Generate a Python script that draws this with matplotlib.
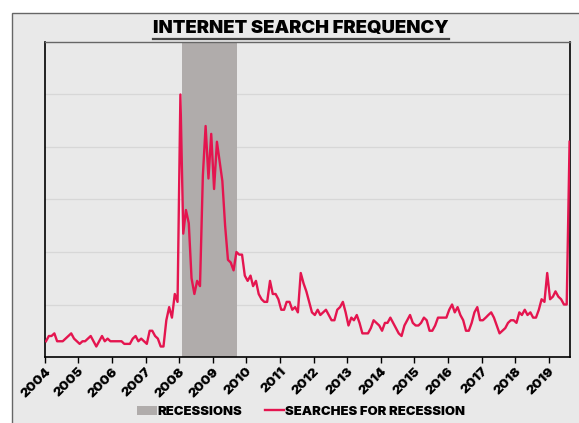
import matplotlib
matplotlib.use("Agg")
import matplotlib.pyplot as plt
import pandas as pd
from matplotlib.patches import Rectangle, Patch
from matplotlib.lines import Line2D

# Monthly search interest for "recession" (0-100 index), Jan 2004 - Aug 2019
search_index = [
    6, 8, 8, 9, 6, 6, 6, 7, 8, 9, 7, 6,          # 2004
    5, 6, 6, 7, 8, 6, 4, 6, 8, 6, 7, 6,          # 2005
    6, 6, 6, 6, 5, 5, 5, 7, 8, 6, 7, 6,          # 2006
    5, 10, 10, 8, 7, 4, 4, 14, 19, 15, 24, 21,   # 2007
    100, 47, 56, 51, 30, 24, 29, 27, 69, 88, 68, 85,  # 2008
    64, 82, 75, 67, 50, 37, 36, 33, 40, 39, 39, 31,   # 2009
    29, 31, 27, 29, 24, 22, 21, 21, 29, 24, 24, 22,   # 2010
    18, 18, 21, 21, 18, 19, 17, 32, 28, 25, 21, 17,   # 2011
    16, 18, 16, 17, 18, 16, 14, 14, 18, 19, 21, 17,   # 2012
    12, 15, 14, 16, 13, 9, 9, 9, 11, 14, 13, 12,      # 2013
    10, 13, 13, 15, 13, 11, 9, 8, 12, 14, 16, 13,     # 2014
    12, 12, 13, 15, 14, 10, 10, 12, 15, 15, 15, 15,   # 2015
    18, 20, 17, 19, 16, 14, 10, 10, 13, 17, 19, 14,   # 2016
    14, 15, 16, 17, 15, 12, 9, 10, 11, 13, 14, 14,    # 2017
    13, 17, 16, 18, 16, 17, 15, 15, 18, 22, 21, 32,   # 2018
    22, 23, 25, 23, 22, 20, 20, 82,                   # 2019
]
first_month = "2004-01-01"
recession_start = "2008-02-01"
recession_end = "2009-09-24"
year_labels = [str(y) for y in range(2004, 2020)]

LINE_RED = "#e4154f"
REC_GREY = "#b0acab"
PANEL = "#e9e9e9"
FONT = ["Inter", "DejaVu Sans"]

# monthly points sit at mid-month
dates = pd.date_range(first_month, periods=len(search_index), freq="MS") + pd.Timedelta(days=14)

W, H = 579, 423
fig = plt.figure(figsize=(W / 100, H / 100), dpi=100)
fig.patch.set_facecolor("white")

# framed grey panel behind everything
fig.add_artist(Rectangle((12 / W, -0.05), 1.2, 1 - 13 / H + 0.05,
                         transform=fig.transFigure, facecolor=PANEL,
                         edgecolor="#666666", lw=1.0, zorder=0))

ax = fig.add_axes([44.7 / W, 1 - 357 / H, (570.3 - 44.7) / W, (357 - 42) / H])
ax.set_facecolor(PANEL)
ax.set_axisbelow(True)

ax.axvspan(pd.Timestamp(recession_start), pd.Timestamp(recession_end),
           color=REC_GREY, lw=0, zorder=1)
ax.plot(dates, search_index, color=LINE_RED, lw=1.7, zorder=3,
        solid_joinstyle="round")

ax.set_ylim(0, 120)
ax.set_yticks([20, 40, 60, 80, 100])
ax.yaxis.grid(True, color="#d7d7d7", lw=0.9)
ax.tick_params(axis="y", length=0, labelleft=False)

ax.set_xlim(pd.Timestamp("2004-01-01"), pd.Timestamp("2019-08-23"))
ticks = [pd.Timestamp(f"{y}-01-01") for y in year_labels]
ax.set_xticks(ticks)
ax.set_xticklabels(year_labels, rotation=45, ha="right", rotation_mode="anchor",
                   family=FONT, fontweight="black", fontsize=9.5)
ax.tick_params(axis="x", length=4, width=1.0, color="black", pad=2)

for side in ("left", "bottom", "right"):
    ax.spines[side].set_color("black")
    ax.spines[side].set_linewidth(1.2)
ax.spines["top"].set_color("#666666")
ax.spines["top"].set_linewidth(1.0)

title = fig.text(0.52, 1 - 29 / H, "INTERNET SEARCH FREQUENCY", ha="center",
                 va="center", family=FONT, fontweight="black", fontsize=13.3,
                 color="black")

# underline the title
fig.canvas.draw()
bb = title.get_window_extent(fig.canvas.get_renderer()).transformed(fig.transFigure.inverted())
fig.add_artist(Line2D([bb.x0, bb.x1], [bb.y0 - 1.0 / H] * 2, transform=fig.transFigure,
                      color="#444444", lw=1.6))

handles = [Patch(facecolor=REC_GREY, edgecolor="none", label="RECESSIONS"),
           Line2D([], [], color=LINE_RED, lw=1.7, label="SEARCHES FOR RECESSION")]
fig.legend(handles=handles, loc="center", bbox_to_anchor=(0.52, 1 - 412 / H),
           ncol=2, frameon=False, handlelength=1.5, handletextpad=0.05,
           columnspacing=1.7, prop={"family": FONT, "weight": "black", "size": 9.4})

fig.savefig("out.png", dpi=100, facecolor=fig.get_facecolor())
